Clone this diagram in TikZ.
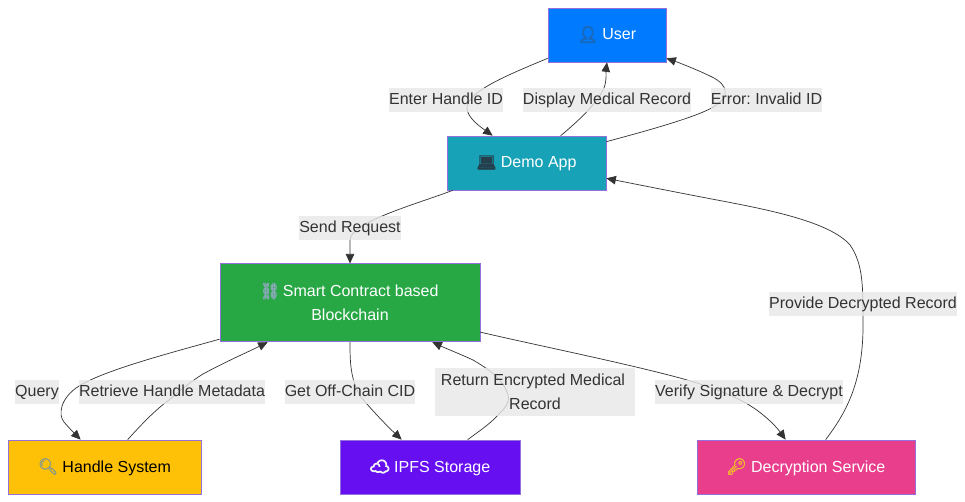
\documentclass[tikz,border=0pt]{standalone}
\usepackage{fontspec}
\setmainfont{Liberation Sans}
\newfontfamily\emojifont[FakeBold=2]{Noto Emoji}
\newfontfamily\emojiheavy[FakeBold=7]{Noto Emoji}
\usetikzlibrary{arrows.meta}
\definecolor{edgecol}{HTML}{333333}
\definecolor{labelbg}{HTML}{E8E8E8}
\definecolor{boxline}{HTML}{9370DB}
\newcommand{\emo}[3]{\smash{\makebox[#1pt][c]{\emojifont\textcolor[HTML]{#2}{#3}}}}
\newcommand{\emoh}[3]{\smash{\makebox[#1pt][c]{\emojiheavy\textcolor[HTML]{#2}{#3}}}}
\tikzset{
  box/.style={draw=boxline,line width=.7pt,inner sep=0pt,align=center,font=\fontsize{16}{24}\selectfont\frenchspacing,text=white},
  oneline/.style={text height=13pt,text depth=3pt},
  edge/.style={draw=edgecol,line width=.7pt,-{Triangle[length=9.5pt,width=8.5pt]}},
  lbl/.style={fill=labelbg,fill opacity=.8,text opacity=1,text=edgecol,inner sep=0pt,align=center,font=\fontsize{16}{24}\selectfont\frenchspacing,text height=12pt,text depth=4pt,minimum height=24pt},
}
\begin{document}
\begin{tikzpicture}[x=1pt,y=-1pt]
\useasboundingbox (0,0) rectangle (965,502);
\node[box,fill=white,draw=none,minimum width=965pt,minimum height=502pt] at (482.5,251) {};
\node[box,oneline,fill={rgb,255:red,0;green,123;blue,255},minimum width=118pt,minimum height=54pt] (user) at (607,35) {\emoh{20}{1A68B8}{👤} User};
\node[box,oneline,fill={rgb,255:red,23;green,162;blue,184},minimum width=159pt,minimum height=54pt] (demo) at (526.5,163) {\emo{20}{25404C}{💻} Demo App};
\node[box,fill={rgb,255:red,40;green,167;blue,69},minimum width=260pt,minimum height=78pt] (chain) at (350,302.8) {\emo{17}{8AA9B8}{⛓} Smart Contract based\\Blockchain};
\node[box,oneline,fill={rgb,255:red,255;green,193;blue,7},text=black,minimum width=193pt,minimum height=54pt] (handle) at (104.5,467) {\emo{20}{8A9A86}{🔍} Handle System};
\node[box,oneline,fill={rgb,255:red,102;green,16;blue,242},minimum width=180pt,minimum height=54pt] (ipfs) at (430,467) {\emoh{20}{F0F0F5}{☁} IPFS Storage};
\node[box,oneline,fill={rgb,255:red,232;green,62;blue,140},minimum width=218pt,minimum height=54pt] (decrypt) at (806,467) {\emo{20}{F5B82E}{🔑} Decryption Service};

\draw[edge] ([yshift=4pt]user.south west) .. controls (505,76) and (467,92) .. (467,108) .. controls (467,118) and (482,128) .. ([xshift=46pt]demo.north west);
\draw[edge] ([xshift=114pt]demo.north west) .. controls (575,124) and (598,103) .. (604,88) .. controls (607,80) and (606,70) .. (user.south);
\draw[edge] ([yshift=-6pt]demo.north east) .. controls (650,130) and (700,116) .. (715,106) .. controls (730,96) and (728,85) .. (712,77) .. controls (700,71) and (680,63) .. ([yshift=4pt]user.south east);
\draw[edge] ([xshift=6pt]demo.south west) .. controls (420,203) and (350,222) .. (350,240) .. controls (350,248) and (350,256) .. (chain.north);
\draw[edge] ([yshift=3pt]chain.south west) .. controls (170,353) and (105,370) .. (79,386) .. controls (60,398) and (58,415) .. (64,422) .. controls (69,428) and (76,435) .. ([xshift=73pt]handle.north west);
\draw[edge] ([xshift=120pt]handle.north west) .. controls (140,426) and (155,410) .. (169,400) .. controls (180,391) and (190,382) .. (203,374) .. controls (225,362) and (250,351) .. ([xshift=48pt]chain.south west);
\draw[edge] (chain.south) .. controls (350,360) and (350,380) .. (361,397) .. controls (370,408) and (385,424) .. ([xshift=62pt]ipfs.north west);
\draw[edge] ([xshift=128pt]ipfs.north west) .. controls (478,432) and (490,424) .. (498,415) .. controls (505,408) and (510,403) .. (508,395) .. controls (504,380) and (490,370) .. (473,360) .. controls (460,354) and (445,348) .. ([xshift=-48pt]chain.south east);
\draw[edge] ([yshift=10pt]chain.south east) .. controls (540,346) and (620,362) .. (680,378) .. controls (705,385) and (725,392) .. (744,402) .. controls (762,412) and (775,425) .. ([xshift=89pt]decrypt.north west);
\draw[edge] ([xshift=129pt]decrypt.north west) .. controls (845,414) and (862,385) .. (863,330) .. controls (863,290) and (864,265) .. (850,245) .. controls (830,222) and (770,210) .. (717,200) .. controls (680,193) and (640,185) .. ([yshift=12pt]demo.south east);

\node[lbl] (l1) at (446,100.3) {Enter Handle ID};
\node[lbl] (l2) at (607,100.3) {Display Medical Record};
\node[lbl] (l3) at (766.5,100.3) {Error: Invalid ID};
\node[lbl] (l4) at (350,228.3) {Send Request};
\node[lbl] (l5) at (37,392) {Query};
\node[lbl] (l6) at (172,392) {Retrieve Handle Metadata};
\node[lbl] (l7) at (350,392) {Get Off-Chain CID};
\node[lbl,text height=,text depth=,minimum width=200pt,minimum height=48pt] (l8) at (535,391.5) {Return Encrypted Medical\hspace*{4pt}\\Record};
\node[lbl] (l9) at (749,392) {Verify Signature \& Decrypt};
\node[lbl] (l10) at (863,304) {Provide Decrypted Record};
\end{tikzpicture}
\end{document}
